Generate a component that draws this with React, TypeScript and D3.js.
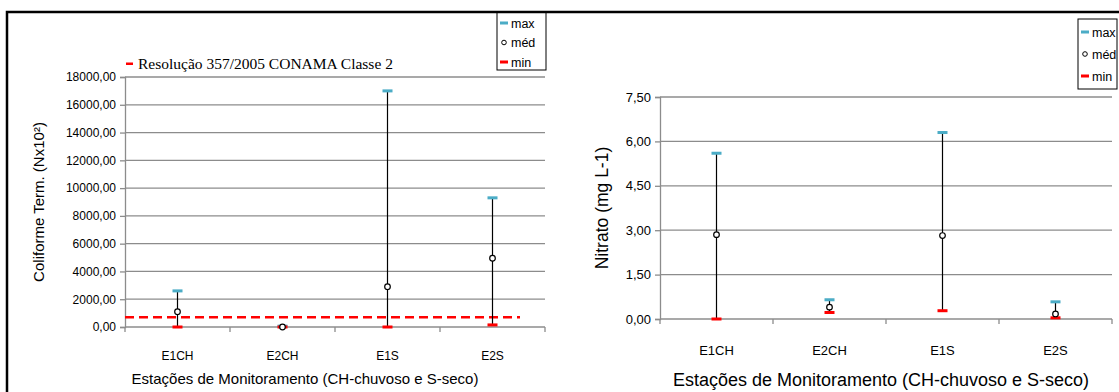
import React, { useEffect, useRef } from 'react';
import * as d3 from 'd3';

const stations = ['E1CH', 'E2CH', 'E1S', 'E2S'];

// Coliforme termotolerante (Nx10²)
const colMax = [2600, 60, 17000, 9300];
const colMed = [1100, 0, 2900, 4950];
const colMin = [0, 0, 0, 150];
const colTicks = [0, 2000, 4000, 6000, 8000, 10000, 12000, 14000, 16000, 18000];
const conamaLimit = 700;

// Nitrato (mg L-1)
const nitMax = [5.6, 0.65, 6.3, 0.58];
const nitMed = [2.85, 0.4, 2.82, 0.17];
const nitMin = [0.0, 0.22, 0.28, 0.04];
const nitTicks = [0, 1.5, 3, 4.5, 6, 7.5];

const legendLabels = ['max', 'méd', 'min'];

const MAX_COLOR = '#4bacc6';
const MIN_COLOR = '#ff0000';
const GRID = '#8c8c8c';
const FONT = "'Liberation Sans', sans-serif";

const ptBR = d3.formatLocale({ decimal: ',', thousands: '', grouping: [3], currency: ['', ''] });
const fmt = ptBR.format('.2f');

const App = () => {
  const ref = useRef<SVGSVGElement>(null);

  useEffect(() => {
    const svg = d3.select(ref.current);
    svg.selectAll('*').remove();

    const drawPanel = (opt: any) => {
      const g = svg.append('g');
      const x = d3.scaleBand().domain(stations).range([opt.x0, opt.x1]);
      const y = d3.scaleLinear().domain([0, opt.ticks[opt.ticks.length - 1]]).range([opt.y1, opt.y0]);

      // grade
      g.selectAll('.grid')
        .data(opt.ticks.slice(1))
        .enter()
        .append('line')
        .attr('x1', opt.x0)
        .attr('x2', opt.x1)
        .attr('y1', (d: number) => y(d))
        .attr('y2', (d: number) => y(d))
        .attr('stroke', GRID)
        .attr('stroke-width', 1.3);

      // eixo y
      const yAxis = g.append('g')
        .attr('transform', `translate(${opt.x0},0)`)
        .call(d3.axisLeft(y).tickValues(opt.ticks).tickFormat((d: any) => fmt(d)).tickSize(5).tickPadding(4));
      yAxis.selectAll('path, line').attr('stroke', GRID).attr('stroke-width', 1.3);
      yAxis.selectAll('text').style('font-family', FONT).style('font-size', opt.tickFont).attr('fill', '#000');

      // eixo x
      const xAxis = g.append('g').attr('transform', `translate(0,${opt.y1})`);
      xAxis.append('line').attr('x1', opt.x0).attr('x2', opt.x1).attr('stroke', GRID).attr('stroke-width', 1.3);
      xAxis.selectAll('.tk')
        .data(stations.map((s) => x(s)!).concat([opt.x1]))
        .enter()
        .append('line')
        .attr('x1', (d: number) => d)
        .attr('x2', (d: number) => d)
        .attr('y1', 0)
        .attr('y2', 5)
        .attr('stroke', GRID)
        .attr('stroke-width', 1.3);
      xAxis.selectAll('.lbl')
        .data(stations)
        .enter()
        .append('text')
        .attr('x', (d: string) => x(d)! + x.bandwidth() / 2)
        .attr('y', opt.catY - opt.y1)
        .attr('text-anchor', 'middle')
        .style('font-family', FONT)
        .style('font-size', opt.tickFont)
        .text((d: string) => d);

      // linha de referência
      if (opt.limit !== undefined) {
        g.append('line')
          .attr('x1', opt.x0)
          .attr('x2', opt.x1 - 25)
          .attr('y1', y(opt.limit))
          .attr('y2', y(opt.limit))
          .attr('stroke', MIN_COLOR)
          .attr('stroke-width', 2.5)
          .attr('stroke-dasharray', '9,5');
      }

      const cx = (i: number) => x(stations[i])! + x.bandwidth() / 2;

      // barras min-max
      g.selectAll('.range')
        .data(stations)
        .enter()
        .append('line')
        .attr('x1', (_: string, i: number) => cx(i))
        .attr('x2', (_: string, i: number) => cx(i))
        .attr('y1', (_: string, i: number) => y(opt.max[i]))
        .attr('y2', (_: string, i: number) => y(opt.min[i]))
        .attr('stroke', '#000')
        .attr('stroke-width', 1.2);

      g.selectAll('.max')
        .data(opt.max)
        .enter()
        .append('rect')
        .attr('x', (_: number, i: number) => cx(i) - 5)
        .attr('y', (d: number) => y(d) - 1.5)
        .attr('width', 10)
        .attr('height', 3)
        .attr('fill', MAX_COLOR);

      g.selectAll('.min')
        .data(opt.min)
        .enter()
        .append('rect')
        .attr('x', (_: number, i: number) => cx(i) - 5)
        .attr('y', (d: number) => y(d) - 1.5)
        .attr('width', 10)
        .attr('height', 3)
        .attr('fill', MIN_COLOR);

      g.selectAll('.med')
        .data(opt.med)
        .enter()
        .append('circle')
        .attr('cx', (_: number, i: number) => cx(i))
        .attr('cy', (d: number) => y(d))
        .attr('r', 2.8)
        .attr('fill', '#fff')
        .attr('stroke', '#000')
        .attr('stroke-width', 1.2);

      // títulos
      g.append('text')
        .attr('x', opt.titleX)
        .attr('y', opt.titleY)
        .attr('text-anchor', 'middle')
        .style('font-family', FONT)
        .style('font-size', opt.titleFont)
        .text('Estações de Monitoramento (CH-chuvoso e S-seco)');

      g.append('text')
        .attr('transform', `translate(${opt.yTitleX},${opt.yTitleY}) rotate(-90)`)
        .attr('text-anchor', 'middle')
        .style('font-family', FONT)
        .style('font-size', opt.yTitleFont)
        .text(opt.yTitle);

      // legenda
      const lg = opt.legend;
      g.append('rect')
        .attr('x', lg.x)
        .attr('y', lg.y)
        .attr('width', lg.w)
        .attr('height', lg.h)
        .attr('fill', '#fff')
        .attr('stroke', '#000')
        .attr('stroke-width', 1);
      legendLabels.forEach((l, i) => {
        const ly = lg.y + lg.first + i * lg.step;
        if (i === 1) {
          g.append('circle').attr('cx', lg.x + 7).attr('cy', ly).attr('r', 2.3)
            .attr('fill', '#fff').attr('stroke', '#000').attr('stroke-width', 1);
        } else {
          g.append('rect').attr('x', lg.x + 3).attr('y', ly - 1.5).attr('width', 8).attr('height', 3)
            .attr('fill', i === 0 ? MAX_COLOR : MIN_COLOR);
        }
        g.append('text')
          .attr('x', lg.x + 14)
          .attr('y', ly + 4.5)
          .style('font-family', FONT)
          .style('font-size', lg.font)
          .text(l);
      });
    };

    drawPanel({
      x0: 125, x1: 545, y0: 77, y1: 327,
      ticks: colTicks, max: colMax, med: colMed, min: colMin, limit: conamaLimit,
      tickFont: '12px', titleFont: '15px', yTitleFont: '15px', catY: 360, titleX: 305, titleY: 384,
      yTitle: 'Coliforme Term. (Nx10²)', yTitleX: 44, yTitleY: 202,
      legend: { x: 497, y: 12, w: 49, h: 58, first: 11, step: 19.5, font: '12.5px' },
    });

    drawPanel({
      x0: 660, x1: 1112, y0: 97, y1: 319,
      ticks: nitTicks, max: nitMax, med: nitMed, min: nitMin,
      tickFont: '13px', titleFont: '18px', yTitleFont: '17.5px', catY: 355, titleX: 881, titleY: 386,
      yTitle: 'Nitrato (mg L-1)', yTitleX: 608, yTitleY: 208,
      legend: { x: 1078, y: 19, w: 39, h: 70, first: 13, step: 22, font: '12.5px' },
    });

    // legenda da resolução
    svg.append('rect').attr('x', 126).attr('y', 62.5).attr('width', 7).attr('height', 2.5).attr('fill', MIN_COLOR);
    svg.append('text')
      .attr('x', 138)
      .attr('y', 69)
      .style('font-family', "'Liberation Serif', 'Times New Roman', serif")
      .style('font-size', '15.5px')
      .text('Resolução 357/2005 CONAMA Classe 2');

    // moldura
    svg.append('path')
      .attr('d', 'M7,392 L7,12 L1119,12')
      .attr('fill', 'none')
      .attr('stroke', '#000')
      .attr('stroke-width', 2.5);
  }, []);

  return (
    <svg
      ref={ref}
      width={1119}
      height={392}
      style={{ position: 'absolute', left: 0, top: 0, background: '#fff' }}
    />
  );
};

export default App;
